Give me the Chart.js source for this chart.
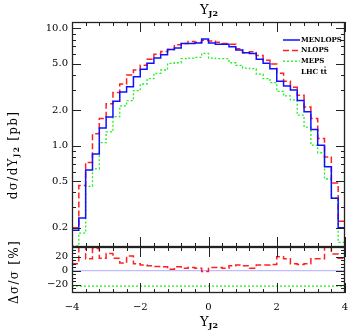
<!DOCTYPE html>
<html>
<head>
<meta charset="utf-8">
<script src="https://cdn.jsdelivr.net/npm/chart.js@4"></script>
<style>
  body { margin: 0; background: #fff; }
  #wrap { position: relative; width: 351px; height: 332px; font-family: "DejaVu Serif", serif; color: #000; }
  canvas { position: absolute; left: 0; }
  .lab { position: absolute; white-space: nowrap; line-height: 1; }
  .lab sub { font-size: 62%; font-weight: bold; vertical-align: -0.3em; }
  .rot { transform: translate(-50%, -50%) rotate(-90deg); }
</style>
</head>
<body>
<div id="wrap">
  <canvas id="topChart" width="351" height="250" style="top:0"></canvas>
  <canvas id="botChart" width="351" height="85" style="top:247px"></canvas>
  <div class="lab" style="left:200px; top:3px; font-size:13px;">Y<sub>J2</sub></div>
  <div class="lab" style="left:200px; top:315px; font-size:13px;">Y<sub>J2</sub></div>
  <div class="lab rot" style="left:14px; top:155px; font-size:12px; letter-spacing:1.3px;">dσ/dY<sub>J2</sub> [pb]</div>
  <div class="lab rot" style="left:14px; top:272px; font-size:12px; letter-spacing:1.3px;">Δσ/σ [%]</div>
</div>
<script>
// bin edges of the Y_J2 histogram (40 bins)
const binEdges = [-4.0, -3.8, -3.6, -3.4, -3.2, -3.0, -2.8, -2.6, -2.4, -2.2,
  -2.0, -1.8, -1.6, -1.4, -1.2, -1.0, -0.8, -0.6, -0.4, -0.2,
  0.0, 0.2, 0.4, 0.6, 0.8, 1.0, 1.2, 1.4, 1.6, 1.8,
  2.0, 2.2, 2.4, 2.6, 2.8, 3.0, 3.2, 3.4, 3.6, 3.8, 4.0];

const menlops = [0.19, 0.242, 0.62, 0.85, 1.41, 1.75, 2.39, 2.87, 3.18, 3.86,
  4.47, 5.02, 5.57, 5.94, 6.6, 6.77, 7.42, 7.42, 7.5, 8.1,
  7.5, 7.32, 7.32, 6.95, 6.51, 6.18, 6.1, 5.43, 5.02, 4.52,
  3.53, 3.22, 2.98, 2.42, 1.94, 1.37, 1.01, 0.66, 0.357, 0.2];

const nlops = [0.2, 0.458, 0.72, 1.26, 1.7, 2.27, 2.83, 3.35, 4.0, 4.4,
  4.83, 5.43, 5.99, 6.35, 6.6, 7.22, 7.42, 7.71, 7.6, 7.91,
  7.8, 7.6, 7.42, 7.32, 6.68, 6.18, 6.3, 5.87, 5.35, 4.95,
  4.13, 3.53, 3.14, 2.69, 2.13, 1.7, 1.15, 0.8, 0.48, 0.227];

const meps = [0.14, 0.18, 0.45, 0.635, 1.06, 1.31, 1.77, 2.18, 2.42, 2.94,
  3.35, 3.72, 4.13, 4.41, 5.02, 5.08, 5.5, 5.57, 5.65, 6.1,
  5.57, 5.5, 5.5, 5.08, 4.83, 4.58, 4.52, 4.07, 3.72, 3.44,
  2.9, 2.65, 2.45, 1.82, 1.44, 1.01, 0.87, 0.52, 0.36, 0.15];

// relative differences in percent (lower panel)
const menlopsDiff = [0, 0, 0, 0, 0, 0, 0, 0, 0, 0, 0, 0, 0, 0, 0, 0, 0, 0, 0, 0,
  0, 0, 0, 0, 0, 0, 0, 0, 0, 0, 0, 0, 0, 0, 0, 0, 0, 0, 0, 0];
const nlopsDiff = [10, 40, 17, 32, 18, 24.6, 18, 11, 21, 10,
  8, 7, 6, 5.5, 2, 5.5, 3.5, 4.5, 3.5, -1,
  4.5, 4.5, 3.5, 7, 8, 7, 3.5, 8, 8, 9,
  20, 17, 10, 9, 10, 17, 17, 40, 24, 18];
const mepsDiff = [-22, -22, -22, -22, -22, -22, -22, -22, -22, -22,
  -22, -22, -22, -22, -22, -22, -22, -22, -22, -22,
  -22, -22, -22, -22, -22, -22, -22, -22, -22, -22,
  -22, -22, -22, -22, -22, -22, -22, -22, -22, -22];

const seriesLabels = ["MENLOPS", "NLOPS", "MEPS", "LHC tt\u0304"];
const yTickValues = [0.2, 0.5, 1, 2, 5, 10];
const yMinorValues = [0.2, 0.3, 0.4, 0.5, 0.6, 0.7, 0.8, 0.9, 1, 2, 3, 4, 5, 6, 7, 8, 9, 10];
const diffTickValues = [-20, 0, 20];
const diffMinorValues = [-30, -25, -20, -15, -10, -5, 0, 5, 10, 15, 20, 25, 30];
const xTickValues = [-4, -2, 0, 2, 4];
const xMinorValues = [-3.6, -3.2, -2.8, -2.4, -1.6, -1.2, -0.8, -0.4, 0.4, 0.8, 1.2, 1.6, 2.4, 2.8, 3.2, 3.6];

const styles = [
  { color: "#1010ff", dash: [], width: 1.5 },
  { color: "#ff2020", dash: [6, 3], width: 1.5 },
  { color: "#22ee22", dash: [2, 2], width: 1.3 },
];

// histogram points: value holds from left edge, last value repeated at right edge
function steps(vals) {
  const pts = vals.map((v, i) => ({ x: binEdges[i], y: v }));
  pts.push({ x: binEdges[binEdges.length - 1], y: vals[vals.length - 1] });
  return pts;
}

function makeSet(label, vals, s) {
  return {
    label: label,
    data: steps(vals),
    stepped: "before",
    borderColor: s.color,
    borderDash: s.dash,
    borderWidth: s.width,
    pointRadius: 0,
    fill: false,
  };
}

const minus = (v) => (v < 0 ? "\u2212" + Math.abs(v) : String(v));

// frame with inward ticks on all four sides
const frameTicks = {
  id: "frameTicks",
  afterDatasetsDraw(chart, args, o) {
    const { ctx, chartArea: a, scales } = chart;
    const x = scales.x, y = scales.y;
    ctx.save();
    ctx.strokeStyle = "#222";
    ctx.lineWidth = 1;
    ctx.setLineDash([]);
    ctx.beginPath();
    const xt = (v, len) => {
      const p = Math.round(x.getPixelForValue(v)) + 0.5;
      ctx.moveTo(p, a.top); ctx.lineTo(p, a.top + len);
      ctx.moveTo(p, a.bottom); ctx.lineTo(p, a.bottom - len);
    };
    const yt = (v, len) => {
      const p = Math.round(y.getPixelForValue(v)) + 0.5;
      if (p < a.top || p > a.bottom) return;
      ctx.moveTo(a.left, p); ctx.lineTo(a.left + len, p);
      ctx.moveTo(a.right, p); ctx.lineTo(a.right - len, p);
    };
    o.xMinor.forEach((v) => xt(v, 4));
    o.xMajor.forEach((v) => xt(v, 10));
    o.yMinor.forEach((v) => yt(v, 4));
    o.yMajor.forEach((v) => yt(v, 9));
    ctx.stroke();
    ctx.lineWidth = 1.3;
    ctx.strokeRect(a.left + 0.5, a.top + 0.5, a.right - a.left - 1, a.bottom - a.top - 1);
    ctx.restore();
  },
};

const legendBox = {
  id: "legendBox",
  afterDraw(chart) {
    const { ctx, chartArea: a } = chart;
    ctx.save();
    ctx.font = "bold 7px 'DejaVu Serif'";
    ctx.textBaseline = "middle";
    ctx.fillStyle = "#000";
    seriesLabels.forEach((lab, i) => {
      const yy = a.top + 18 + i * 10.6;
      const s = styles[i];
      if (s) {
        ctx.strokeStyle = s.color;
        ctx.lineWidth = s.width;
        ctx.setLineDash(s.dash);
        ctx.beginPath();
        ctx.moveTo(a.right - 62, yy);
        ctx.lineTo(a.right - 45, yy);
        ctx.stroke();
      }
      ctx.fillText(lab, a.right - 44, yy);
    });
    ctx.restore();
  },
};

function fixWidth(scale) {
  scale.width = 72;
  scale.paddingTop = 0;
  scale.paddingBottom = 0;
}

Chart.defaults.font.family = "'DejaVu Serif', serif";
Chart.defaults.color = "#000";

new Chart(document.getElementById("topChart"), {
  type: "line",
  data: {
    datasets: [
      makeSet("MENLOPS", menlops, styles[0]),
      makeSet("NLOPS", nlops, styles[1]),
      makeSet("MEPS", meps, styles[2]),
    ],
  },
  options: {
    responsive: false,
    animation: false,
    devicePixelRatio: 1,
    layout: { padding: { top: 22, right: 6, bottom: 3, left: 0 } },
    plugins: {
      legend: { display: false },
      tooltip: { enabled: false },
      frameTicks: { xMajor: xTickValues, xMinor: xMinorValues, yMajor: yTickValues, yMinor: yMinorValues },
    },
    scales: {
      x: { type: "linear", min: -4, max: 4, display: false },
      y: {
        type: "logarithmic",
        min: 0.137,
        max: 11.3,
        grid: { display: false, drawTicks: false },
        border: { display: false },
        afterBuildTicks: (s) => { s.ticks = yTickValues.map((v) => ({ value: v })); },
        afterFit: fixWidth,
        ticks: { padding: 4, font: { size: 10 }, callback: (v) => Number(v).toFixed(1) },
      },
    },
  },
  plugins: [frameTicks, legendBox],
});

new Chart(document.getElementById("botChart"), {
  type: "line",
  data: {
    datasets: [
      makeSet("MENLOPS", menlopsDiff, { color: "rgba(70,70,255,0.45)", dash: [], width: 1 }),
      makeSet("NLOPS", nlopsDiff, styles[1]),
      makeSet("MEPS", mepsDiff, styles[2]),
    ],
  },
  options: {
    responsive: false,
    animation: false,
    devicePixelRatio: 1,
    layout: { padding: { top: 0, right: 6, bottom: 0, left: 0 } },
    plugins: {
      legend: { display: false },
      tooltip: { enabled: false },
      frameTicks: { xMajor: xTickValues, xMinor: xMinorValues, yMajor: diffTickValues, yMinor: diffMinorValues },
    },
    scales: {
      x: {
        type: "linear",
        min: -4,
        max: 4,
        grid: { display: false, drawTicks: false },
        border: { display: false },
        afterBuildTicks: (s) => { s.ticks = xTickValues.map((v) => ({ value: v })); },
        afterFit: (s) => { s.height = 39; s.paddingLeft = 0; s.paddingRight = 0; },
        ticks: { padding: 8, maxRotation: 0, font: { size: 10 }, callback: (v) => minus(v) },
      },
      y: {
        min: -32,
        max: 34,
        grid: { display: false, drawTicks: false },
        border: { display: false },
        afterBuildTicks: (s) => { s.ticks = diffTickValues.map((v) => ({ value: v })); },
        afterFit: fixWidth,
        ticks: { padding: 4, font: { size: 10 }, callback: (v) => minus(v) },
      },
    },
  },
  plugins: [frameTicks],
});
</script>
</body>
</html>
